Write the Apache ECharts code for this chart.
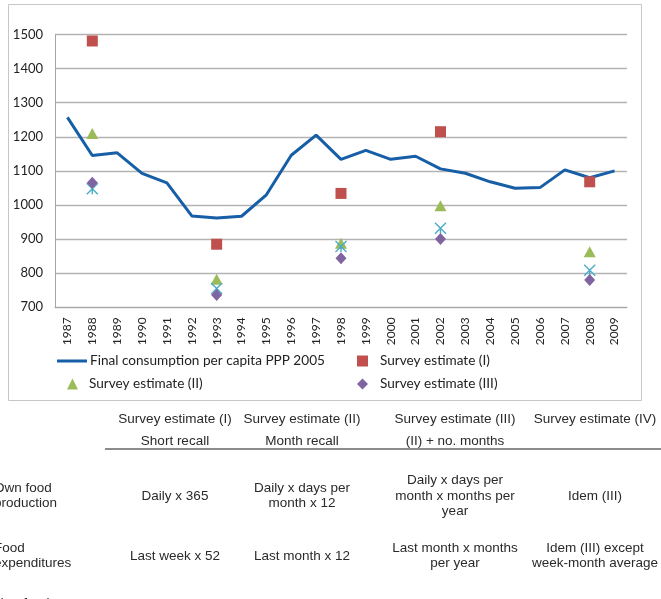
<!DOCTYPE html>
<html>
<head>
	<meta charset="utf-8">
	<title>Consumption vs survey estimates</title>
	<script src="https://cdn.jsdelivr.net/npm/echarts@6/dist/echarts.min.js"></script>
	<style>
		html, body { margin: 0; padding: 0; background: #fff; }
	</style>
</head>
<body>
	<div id="echarts" style="width: 661px; height: 599px"></div>
	<script>
	// data
	var years = ['1987','1988','1989','1990','1991','1992','1993','1994','1995','1996','1997','1998',
		'1999','2000','2001','2002','2003','2004','2005','2006','2007','2008','2009'];
	var finalConsumption = [1257, 1145, 1153, 1093, 1065, 968, 962, 967, 1030, 1146, 1205, 1134,
		1160, 1134, 1143, 1106, 1093, 1068, 1049, 1051, 1103, 1080, 1100];
	var surveyYears = ['1988', '1993', '1998', '2002', '2008'];
	var surveyI   = [1481, 885, 1034, 1215, 1068];
	var surveyII  = [1210, 782, 888, 998, 863];
	var surveyIII = [1065, 736, 844, 900, 780];
	var surveyIV  = [1048, 755, 878, 932, 809];

	var chartFont = 'Lato';
	var tableFont = 'Liberation Sans';

	function pairs(vals) {
		return surveyYears.map(function (y, i) { return [y, vals[i]]; });
	}

	let myChart = echarts.init(document.getElementById('echarts'), null, {renderer: 'canvas'});

	// table under the chart: [text, x center, y]
	var tableTexts = [
		['Survey estimate (I)', 175, 419], ['Survey estimate (II)', 302, 419],
		['Survey estimate (III)', 455, 419], ['Survey estimate (IV)', 595, 419],
		['Short recall', 175, 441], ['Month recall', 302, 441], ['(II) + no. months', 455, 441],
		['Daily x 365', 175, 496],
		['Daily x days per\nmonth x 12', 302, 496],
		['Daily x days per\nmonth x months per\nyear', 455, 496],
		['Idem (III)', 595, 496],
		['Last week x 52', 175, 556],
		['Last month x 12', 302, 556],
		['Last month x months\nper year', 455, 556],
		['Idem (III) except\nweek-month average', 595, 556]
	];
	var rowLabels = [
		['Own food\nproduction', 496], ['Food\nexpenditures', 556], ['Non-food', 603]
	];

	var graphics = [{
		type: 'rect',
		shape: {x: 8.5, y: 4.5, width: 633, height: 396},
		style: {fill: 'none', stroke: '#c6c6c6', lineWidth: 1},
		silent: true
	}, {
		type: 'line',
		shape: {x1: 105, y1: 449, x2: 661, y2: 449},
		style: {stroke: '#8c8c8c', lineWidth: 2}
	}];
	tableTexts.forEach(function (t) {
		graphics.push({
			type: 'text', x: t[1], y: t[2],
			style: {text: t[0], fill: '#2a2a2a', font: '13.5px "' + tableFont + '"',
				align: 'center', verticalAlign: 'middle', lineHeight: 15.5}
		});
	});
	rowLabels.forEach(function (t) {
		graphics.push({
			type: 'text', x: -6, y: t[1],
			style: {text: t[0], fill: '#2a2a2a', font: '13.5px "' + tableFont + '"',
				align: 'left', verticalAlign: 'middle', lineHeight: 15.5}
		});
	});

	var legendText = {fontFamily: chartFont, fontSize: 13.6, color: '#222'};

	let option = {
		animation: false,
		textStyle: {fontFamily: chartFont},
		grid: {left: 55, right: 34, top: 34.5, bottom: 291.7},
		legend: [
			{data: [{name: 'Final consumption per capita PPP 2005', icon: 'rect'}], left: 57, top: 354, padding: 0,
				itemWidth: 30, itemHeight: 3,
				textStyle: Object.assign({padding: [0, 0, 0, -2]}, legendText)},
			{data: ['Survey estimate (I)'], left: 357, top: 354, padding: 0, itemWidth: 11, itemHeight: 11,
				textStyle: Object.assign({padding: [0, 0, 0, 7]}, legendText)},
			{data: ['Survey estimate (II)'], left: 67, top: 377, padding: 0, itemWidth: 11, itemHeight: 11,
				textStyle: Object.assign({padding: [0, 0, 0, 6]}, legendText)},
			{data: ['Survey estimate (III)'], left: 357, top: 377, padding: 0, itemWidth: 11, itemHeight: 11,
				textStyle: Object.assign({padding: [0, 0, 0, 7]}, legendText)}
		],
		xAxis: {
			type: 'category',
			data: years,
			boundaryGap: true,
			axisLine: {lineStyle: {color: '#a6a6a6', width: 1}},
			axisTick: {show: false},
			axisLabel: {rotate: 90, fontSize: 12, color: '#222', margin: 10, interval: 0, fontFamily: chartFont}
		},
		yAxis: {
			type: 'value',
			min: 700, max: 1500, interval: 100,
			axisLine: {show: true, lineStyle: {color: '#a6a6a6', width: 1}},
			axisTick: {show: false},
			axisLabel: {fontSize: 13, color: '#222', margin: 12, fontFamily: chartFont,
				formatter: function (v) { return String(v); }},
			splitLine: {lineStyle: {color: '#b3b3b3', width: 1.3}}
		},
		series: [{
			name: 'Final consumption per capita PPP 2005',
			type: 'line',
			data: finalConsumption,
			symbol: 'none',
			lineStyle: {color: '#165ea6', width: 3},
			itemStyle: {color: '#165ea6'},
			z: 2
		}, {
			name: 'Survey estimate (I)',
			type: 'scatter',
			data: pairs(surveyI),
			symbol: 'rect', symbolSize: 11,
			itemStyle: {color: '#c0504d', opacity: 1},
			z: 3
		}, {
			name: 'Survey estimate (II)',
			type: 'scatter',
			data: pairs(surveyII),
			symbol: 'triangle', symbolSize: [12, 11],
			itemStyle: {color: '#9bbb59', opacity: 1},
			z: 3
		}, {
			name: 'Survey estimate (IV)',
			type: 'scatter',
			data: pairs(surveyIV),
			symbol: 'path://M0,0L10,10M10,0L0,10M5,5L5,10',
			symbolSize: 11,
			itemStyle: {color: 'rgba(0,0,0,0)', borderColor: '#4bacc6', borderWidth: 1.4, opacity: 1},
			z: 3
		}, {
			name: 'Survey estimate (III)',
			type: 'scatter',
			data: pairs(surveyIII),
			symbol: 'diamond', symbolSize: [11, 12],
			itemStyle: {color: '#8064a2', opacity: 1},
			z: 4
		}],
		graphic: graphics
	};
	myChart.setOption(option);
	</script>
</body>
</html>
